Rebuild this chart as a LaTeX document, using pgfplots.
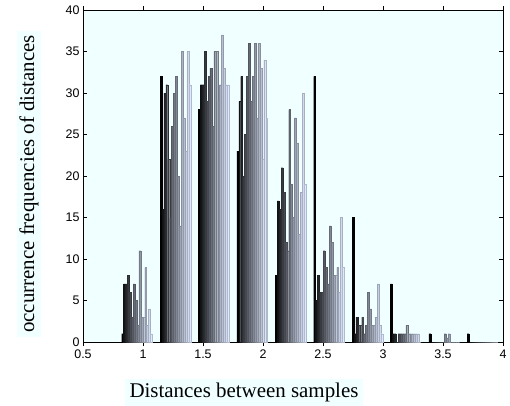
\documentclass[border=0pt]{standalone}
\usepackage{pgfplots}
\pgfplotsset{compat=1.18}
\usepackage{pgfplotstable}
\usepackage{fontspec}
\setmainfont{Liberation Serif}
\newfontfamily\sansf{Liberation Sans}

\definecolor{azure}{rgb}{0.94,1.0,1.0}
\definecolor{cend}{rgb}{0.87,0.91,1.0}

% distance bins (centres) and counts of the 16 series
\pgfplotstableread{
x    s0 s1 s2 s3 s4 s5 s6 s7 s8 s9 s10 s11 s12 s13 s14 s15
0.95  1  7  7  8  6  3  7  5  2 11   3   3   9   2   4   1
1.27 32 16 30 31 22 15 26 30 32 20  14  35  27  23  35  31
1.59 28 31 31 35 29 32 33 26 35 35  29  31  37  33  31  31
1.91 23 29 32 20 25 32 36 29 32 36  27  36  33  22  34  27
2.23  8 17 16 21 18 12 11 28 19 15  27  24  13  18  30  19
2.55 32  5  8  6  6 11  9  7 14 12   8   8   9   6  15   9
2.87 15  1  3  2  2  3  1  2  6  4   2   2   3   7   2   1
3.19  7  1  1  0  1  1  1  1  2  1   1   1   1   1   1   0
3.51  1  0  0  0  0  0  0  0  1 0.5  1   0   0   0   0   0
3.83  1  0  0  0  0  0  0  0  0  0   0   0   0   0   0   0
}\data

% #1 column, #2 shade (percent of cend), #3 shift in axis units
\newcommand{\bars}[3]{%
  \addplot[fill=cend!#2!black, draw=cend!#2!black!80!black, line width=0.25bp, bar shift=#3]
    table[x=x, y=s#1] {\data};}

\begin{document}
\begin{tikzpicture}
\useasboundingbox (-83bp,-64bp) rectangle (427bp,342bp);
\begin{axis}[
    at={(0,0)}, anchor=south west,
    scale only axis,
    width=420bp, height=332bp,
    xmin=0.5, xmax=4, ymin=0, ymax=40,
    xtick={0.5,1,...,4},
    ytick={0,5,...,40},
    tick align=inside,
    major tick length=4bp,
    axis background/.style={fill=azure},
    ybar=0pt, bar width=0.016,
    tick label style={font=\sansf\fontsize{12.5}{14}\selectfont},
    /pgf/number format/assume math mode=true,
    axis line style={black, line width=0.6bp},
    every tick/.style={black, line width=0.6bp},
]
\bars{0}{0}{-0.120}
\bars{1}{9}{-0.104}
\bars{2}{17}{-0.088}
\bars{3}{25}{-0.072}
\bars{4}{32}{-0.056}
\bars{5}{39}{-0.040}
\bars{6}{46}{-0.024}
\bars{7}{52}{-0.008}
\bars{8}{58}{0.008}
\bars{9}{65}{0.024}
\bars{10}{71}{0.040}
\bars{11}{77}{0.056}
\bars{12}{83}{0.072}
\bars{13}{89}{0.088}
\bars{14}{94}{0.104}
\bars{15}{100}{0.120}
\end{axis}
\node[fill=azure, rotate=90, inner xsep=4bp, inner ysep=2bp, font=\fontsize{21}{24}\selectfont]
  at (-54bp,158bp) {occurrence frequencies of distances};
\node[fill=azure, inner xsep=5bp, inner ysep=4bp, font=\fontsize{21}{24}\selectfont]
  at (161bp,-50.5bp) {Distances between samples};
\end{tikzpicture}
\end{document}
